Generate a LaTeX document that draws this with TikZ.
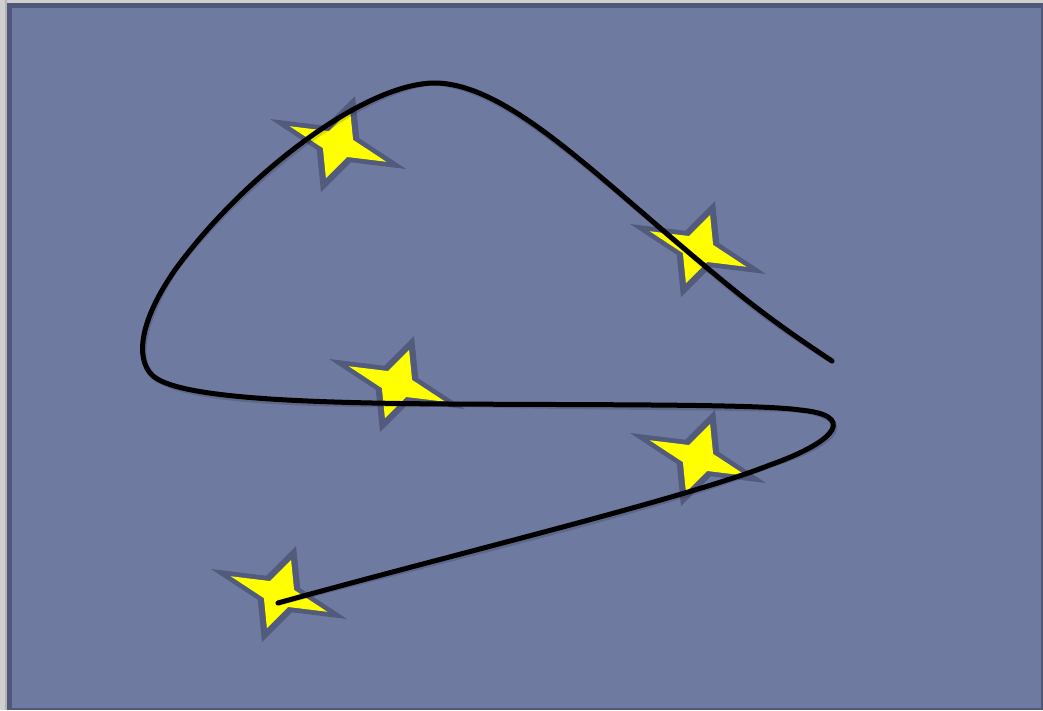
\documentclass[tikz,border=0pt]{standalone}
\usetikzlibrary{calc}
\definecolor{outergray}{HTML}{CFCFCF}
\definecolor{edgegray}{HTML}{B4B4B4}
\definecolor{frameblue}{HTML}{4F5879}
\definecolor{bgblue}{HTML}{6F7AA0}
\definecolor{starline}{HTML}{525B7C}
\definecolor{staryellow}{HTML}{FFFF00}
\tikzset{
  curveline/.style={line width=5pt, black, line cap=round, line join=round},
  curveshadow/.style={line width=5.5pt, black, opacity=0.15, line cap=round},
  starpic/.pic={
    \fill[starline] (68,25) -- (21.25,-5.75) -- (17,-48) -- (-12.75,-18.25) -- (-68,-25) -- (-21.25,5.75) -- (-17,48) -- (12.75,18.25) -- cycle;
    \fill[staryellow, scale=0.71] (68,25) -- (21.25,-5.75) -- (17,-48) -- (-12.75,-18.25) -- (-68,-25) -- (-21.25,5.75) -- (-17,48) -- (12.75,18.25) -- cycle;
  }
}
\begin{document}
\begin{tikzpicture}[x=1pt, y=-1pt]
  \useasboundingbox (0,0) rectangle (1043,710);
  % background
  \fill[outergray] (0,0) rectangle (1043,710);
  \fill[edgegray] (5,0) rectangle (7,710);
  \fill[frameblue] (7,3) rectangle (1043,710);
  \fill[bgblue] (12,8) rectangle (1041,708);
  % stars
  \pic (s1) at (338,144) {starpic};
  \pic (s2) at (698,249) {starpic};
  \pic (s3) at (397,384) {starpic};
  \pic (s4) at (698,458) {starpic};
  \pic (s5) at (279,594) {starpic};
  % curve
  \coordinate (c0) at (278,603);
  \coordinate (c1) at (770,465);
  \coordinate (c2) at (800,410);
  \coordinate (c3) at (450,404);
  \coordinate (c4) at (152,375);
  \coordinate (c5) at (175,270);
  \coordinate (c6) at (433,83);
  \coordinate (c7) at (680,245);
  \coordinate (c8) at (832,361);
  \begin{scope}[shift={(1.5,3)}]
  \draw[curveshadow] (c0) .. controls (450,555) and (680,500) .. (c1)
    .. controls (840,440) and (855,415) .. (c2)
    .. controls (760,404) and (600,405) .. (c3)
    .. controls (300,403) and (175,398) .. (c4)
    .. controls (135,358) and (140,320) .. (c5)
    .. controls (240,180) and (360,85) .. (c6)
    .. controls (500,82) and (580,160) .. (c7)
    .. controls (740,296) and (770,320) .. (c8);
  \end{scope}
  \draw[curveline] (c0) .. controls (450,555) and (680,500) .. (c1)
    .. controls (840,440) and (855,415) .. (c2)
    .. controls (760,404) and (600,405) .. (c3)
    .. controls (300,403) and (175,398) .. (c4)
    .. controls (135,358) and (140,320) .. (c5)
    .. controls (240,180) and (360,85) .. (c6)
    .. controls (500,82) and (580,160) .. (c7)
    .. controls (740,296) and (770,320) .. (c8);
\end{tikzpicture}
\end{document}
